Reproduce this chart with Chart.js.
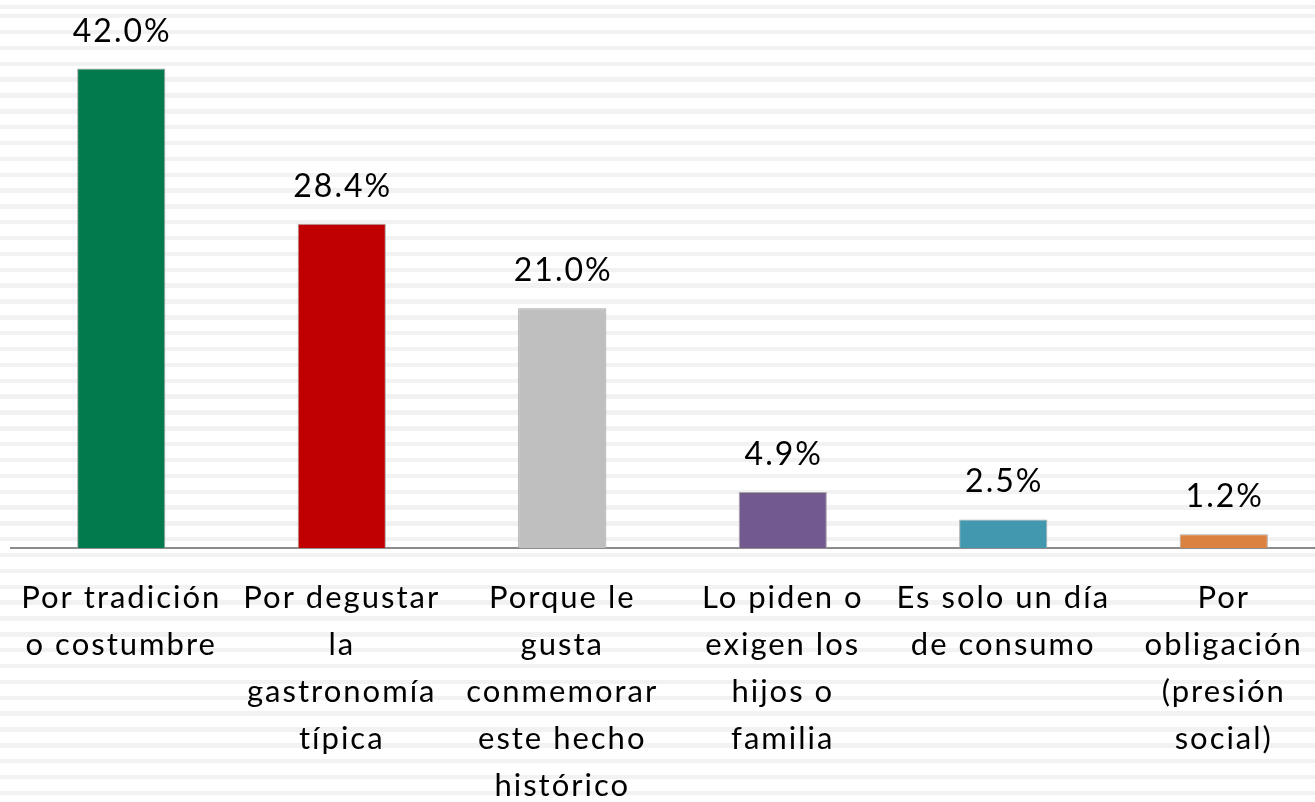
<!DOCTYPE html>
<html>
<head>
<meta charset="utf-8">
<script src="https://cdn.jsdelivr.net/npm/chart.js@4.4.1/dist/chart.umd.min.js"></script>
<style>
  html, body {
    margin: 0;
    padding: 0;
    width: 1315px;
    height: 802px;
    overflow: hidden;
    background-color: #ffffff;
    background-image: repeating-linear-gradient(to bottom, #f2f2f2 0px, #f2f2f2 4.4px, #ffffff 4.4px, #ffffff 15.85px);
    background-position: 0 14px;
  }
  #wrap {
    position: absolute;
    left: 0;
    top: 0;
    width: 1340px;
    height: 802px;
  }
</style>
</head>
<body>
<div id="wrap"><canvas id="grafico"></canvas></div>
<script>
var categorias = [
  ['Por tradición', 'o costumbre'],
  ['Por degustar', 'la', 'gastronomía', 'típica'],
  ['Porque le', 'gusta', 'conmemorar', 'este hecho', 'histórico'],
  ['Lo piden o', 'exigen los', 'hijos o', 'familia'],
  ['Es solo un día', 'de consumo'],
  ['Por', 'obligación', '(presión', 'social)']
];
var porcentajes = [42.0, 28.4, 21.0, 4.9, 2.5, 1.2];
var colores = ['#037a4d', '#c00000', '#bfbfbf', '#725a8e', '#4298af', '#da8240'];

var fuente = 'Lato, "Open Sans", sans-serif';

// el texto original va algo mas espaciado que Lato
var espaciado = {
  id: 'espaciado',
  beforeLayout: function (chart) { chart.ctx.letterSpacing = '2px'; },
  beforeDraw: function (chart) { chart.ctx.letterSpacing = '2px'; }
};

// etiquetas de valor encima de cada barra
var etiquetasValor = {
  id: 'etiquetasValor',
  afterDatasetsDraw: function (chart) {
    var ctx = chart.ctx;
    var meta = chart.getDatasetMeta(0);
    ctx.save();
    ctx.font = '32px ' + fuente;
    ctx.fillStyle = '#000000';
    ctx.textAlign = 'center';
    ctx.textBaseline = 'alphabetic';
    meta.data.forEach(function (bar, i) {
      ctx.fillText(porcentajes[i].toFixed(1) + '%', bar.x + 1, bar.y - 27);
    });
    ctx.restore();
  }
};

var ctx = document.getElementById('grafico').getContext('2d');

var grafico = new Chart(ctx, {
  type: 'bar',
  data: {
    labels: categorias,
    datasets: [{
      data: porcentajes,
      backgroundColor: colores,
      borderColor: '#a6a6a6',
      borderWidth: 1,
      barPercentage: 0.4,
      categoryPercentage: 1.0
    }]
  },
  options: {
    responsive: true,
    maintainAspectRatio: false,
    animation: false,
    layout: {
      padding: { left: 11, right: 6, top: 0, bottom: 0 }
    },
    plugins: {
      legend: { display: false },
      tooltip: { enabled: false }
    },
    scales: {
      x: {
        grid: { display: false, drawTicks: false },
        border: { display: true, color: '#8c8c8c', width: 2 },
        ticks: {
          color: '#000000',
          padding: 26,
          maxRotation: 0,
          autoSkip: false,
          font: { family: fuente, size: 31, lineHeight: 1.52 }
        },
        afterFit: function (scale) {
          scale.height = 254;
          scale.paddingLeft = 0;
          scale.paddingRight = 0;
        }
      },
      y: {
        display: false,
        min: 0,
        max: 48
      }
    }
  },
  plugins: [espaciado, etiquetasValor]
});
</script>
</body>
</html>
